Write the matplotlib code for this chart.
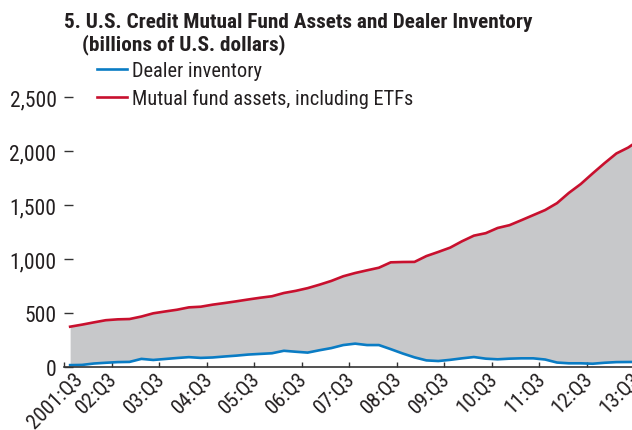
import matplotlib
matplotlib.use("Agg")
import matplotlib.pyplot as plt
from matplotlib import font_manager as fm
from matplotlib.transforms import ScaledTranslation

# ---------------- data (billions of U.S. dollars), quarterly 2001:Q3 - 2013:Q3
quarters = [f"{y}:Q{q}" for y in range(2001, 2014) for q in (1, 2, 3, 4)][2:-1]
mutual_fund_assets = [376, 395, 416, 436, 444, 447, 470, 500, 517, 533, 555, 561,
                      580, 595, 611, 628, 644, 658, 688, 708, 733, 765, 800, 843,
                      873, 898, 922, 972, 975, 976, 1030, 1068, 1108, 1167, 1219, 1242,
                      1290, 1316, 1362, 1409, 1456, 1520, 1615, 1697, 1795, 1890, 1980, 2035,
                      2110]
dealer_inventory = [20, 22, 35, 42, 48, 50, 78, 68, 77, 86, 94, 87,
                    91, 100, 108, 118, 124, 130, 153, 144, 136, 158, 178, 206,
                    219, 206, 206, 168, 128, 92, 64, 58, 69, 83, 95, 80,
                    74, 80, 83, 83, 72, 44, 37, 37, 33, 42, 48, 49,
                    50]
tick_labels = ["2001:Q3", "02:Q3", "03:Q3", "04:Q3", "05:Q3", "06:Q3", "07:Q3",
               "08:Q3", "09:Q3", "10:Q3", "11:Q3", "12:Q3", "13:Q3"]
y_ticks = [0, 500, 1000, 1500, 2000, 2500]
y_tick_labels = ["0", "500", "1,000", "1,500", "2,000", "2,500"]

# ---------------- fonts
available = {f.name for f in fm.fontManager.ttflist}
family = "DejaVu Sans"
for cand in ["Liberation Sans Narrow", "Roboto Condensed", "Arial Narrow",
             "Liberation Sans", "Roboto"]:
    if cand in available:
        family = cand
        break
plt.rcParams["font.family"] = [family, "DejaVu Sans"]

RED = "#C8102E"
BLUE = "#0A7CC4"
GRAY = "#C7C8CA"
DARK = "#333333"
TXT = "#231f20"

W, H = 632, 431
fig = plt.figure(figsize=(W / 100, H / 100), dpi=100)
q_px = 11.875
left_px, bottom_px, top_px = 64.2, 368.3, 98.3
ax = fig.add_axes([left_px / W, (H - bottom_px) / H,
                   49 * q_px / W, (bottom_px - top_px) / H])

x = list(range(len(quarters)))
ax.fill_between(x, dealer_inventory, mutual_fund_assets, color=GRAY, lw=0, zorder=1)
l1, = ax.plot(x, dealer_inventory, color=BLUE, lw=1.9, zorder=3,
              label="Dealer inventory", solid_joinstyle="round")
l2, = ax.plot(x, mutual_fund_assets, color=RED, lw=1.9, zorder=3,
              label="Mutual fund assets, including ETFs", solid_joinstyle="round")

ax.set_xlim(-0.5, 48.5)
ax.set_ylim(0, 2500)
ax.set_facecolor("none")

for s in ("top", "right", "left"):
    ax.spines[s].set_visible(False)
ax.spines["bottom"].set_color(DARK)
ax.spines["bottom"].set_linewidth(1.2)
ax.spines["bottom"].set_zorder(4)

ax.set_yticks(y_ticks)
ax.set_yticklabels(y_tick_labels)
ax.tick_params(axis="y", direction="in", length=6.5, width=1.0, color=DARK,
               pad=5.5, labelsize=15.5, labelcolor=TXT)

xt = [4 * k - 0.5 for k in range(len(tick_labels))]
ax.set_xticks(xt)
ax.set_xticklabels(tick_labels, rotation=45, ha="right", va="top",
                   rotation_mode="anchor")
ax.tick_params(axis="x", direction="in", length=3.8, width=1.0, color=DARK,
               pad=1.0, labelsize=15.2, labelcolor=TXT)
# shift every label slightly left of its tick, the first one to the right of the "0"
for i, lab in enumerate(ax.get_xticklabels()):
    dx = 9 / 100 if i == 0 else -4 / 100
    lab.set_transform(lab.get_transform() + ScaledTranslation(dx, 0, fig.dpi_scale_trans))

fig.text(64 / W, 1 - 28.5 / H, "5. U.S. Credit Mutual Fund Assets and Dealer Inventory",
         fontsize=15.3, fontweight="bold", color=TXT, va="baseline", ha="left")
fig.text(82 / W, 1 - 50.5 / H, "(billions of U.S. dollars)",
         fontsize=15.3, fontweight="bold", color=TXT, va="baseline", ha="left")

leg = ax.legend(handles=[l1, l2], loc="upper left", frameon=False,
                bbox_to_anchor=(97 / W, 1 - 62 / H), bbox_transform=fig.transFigure,
                fontsize=14.7, handlelength=1.48, handletextpad=0.25,
                labelspacing=0.42, borderpad=0, borderaxespad=0)
for t in leg.get_texts():
    t.set_color(TXT)

fig.savefig("out.png", dpi=100)
